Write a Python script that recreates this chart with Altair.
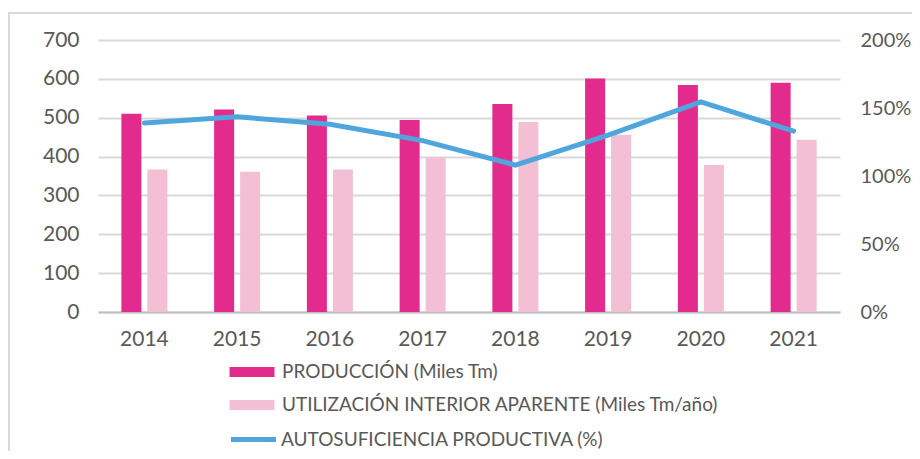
import altair as alt
import pandas as pd

years = ["2014", "2015", "2016", "2017", "2018", "2019", "2020", "2021"]
produccion = [510, 521, 506, 494, 535, 601, 584, 590]
utilizacion = [367, 361, 367, 398, 489, 456, 378, 443]
autosuficiencia = [1.39, 1.435, 1.38, 1.26, 1.08, 1.30, 1.545, 1.33]

S_PROD = "PRODUCCIÓN (Miles Tm)"
S_UTIL = "UTILIZACIÓN INTERIOR APARENTE (Miles Tm/año)"
S_AUTO = "AUTOSUFICIENCIA PRODUCTIVA (%)"

left_ticks = [0, 100, 200, 300, 400, 500, 600, 700]
right_ticks = [0, 0.5, 1.0, 1.5, 2.0]

bars_df = pd.DataFrame({
    "year": years * 2,
    "serie": [S_PROD] * len(years) + [S_UTIL] * len(years),
    "valor": produccion + utilizacion,
})
line_df = pd.DataFrame({"year": years, "serie": [S_AUTO] * len(years), "pct": autosuficiencia})

FONT = "Lato"
TXT = "#595959"
BORDER = "#D9D9D9"

x_enc = alt.X(
    "year:N",
    sort=years,
    scale=alt.Scale(paddingInner=0.504, paddingOuter=0.252),
    axis=alt.Axis(title=None, labelAngle=0, ticks=False, domainColor="#BFBFBF",
                  domainWidth=2, labelPadding=16, grid=False),
)

bars = alt.Chart(bars_df).mark_bar().encode(
    x=x_enc,
    xOffset=alt.XOffset("serie:N", sort=[S_PROD, S_UTIL],
                        scale=alt.Scale(paddingInner=0.23, paddingOuter=0)),
    y=alt.Y("valor:Q", scale=alt.Scale(domain=[0, 700], nice=False),
            axis=alt.Axis(title=None, values=left_ticks, grid=True, gridColor="#D9D9D9",
                          gridWidth=2, domain=False, ticks=False, labelPadding=19, orient="left")),
    color=alt.Color("serie:N",
                    scale=alt.Scale(domain=[S_PROD, S_UTIL], range=["#E32B8E", "#F2BFD5"]),
                    legend=alt.Legend(title=None, orient="none", legendX=144, legendY=322,
                                      symbolType="M-2.25,-0.5H2.25V0.5H-2.25Z", symbolSize=400,
                                      symbolStrokeWidth=0, labelOffset=20, rowPadding=13,
                                      labelLimit=700, padding=0)),
)

line = alt.Chart(line_df).mark_line(strokeWidth=5, strokeCap="round").encode(
    x=alt.X("year:N", sort=years),
    y=alt.Y("pct:Q", scale=alt.Scale(domain=[0, 2], nice=False),
            axis=alt.Axis(title=None, orient="right", format=".0%", values=right_ticks,
                          grid=False, domain=False, ticks=False, labelPadding=20,
                          labelFontSize=20)),
    stroke=alt.Stroke("serie:N", scale=alt.Scale(domain=[S_AUTO], range=["#4FA6DC"]),
                      legend=alt.Legend(title=None, orient="none", legendX=143, legendY=387,
                                        symbolType="M-2.25,0H2.25", symbolSize=400,
                                        symbolStrokeWidth=5, labelOffset=15,
                                        labelLimit=700, padding=0)),
)

frame_df = pd.DataFrame({"k": [0]})
top_border = alt.Chart(frame_df).mark_rule(color=BORDER, strokeWidth=2).encode(
    x=alt.value(-90), x2=alt.value(814), y=alt.value(-27))
left_border = alt.Chart(frame_df).mark_rule(color=BORDER, strokeWidth=2).encode(
    x=alt.value(-89), y=alt.value(-27), y2=alt.value(411))

chart = (
    alt.layer(bars, line, top_border, left_border)
    .resolve_scale(y="independent", color="independent", stroke="independent")
    .properties(width=742, height=272,
                autosize=alt.AutoSizeParams(type="none"),
                padding={"left": 90, "right": 72, "top": 32, "bottom": 140})
    .configure_view(stroke=None)
    .configure_axis(labelFont=FONT, labelFontSize=21, labelColor=TXT)
    .configure_legend(labelFont=FONT, labelFontSize=19, labelColor=TXT)
)

chart.save("out.html", embed_options={"renderer": "svg", "actions": False})
